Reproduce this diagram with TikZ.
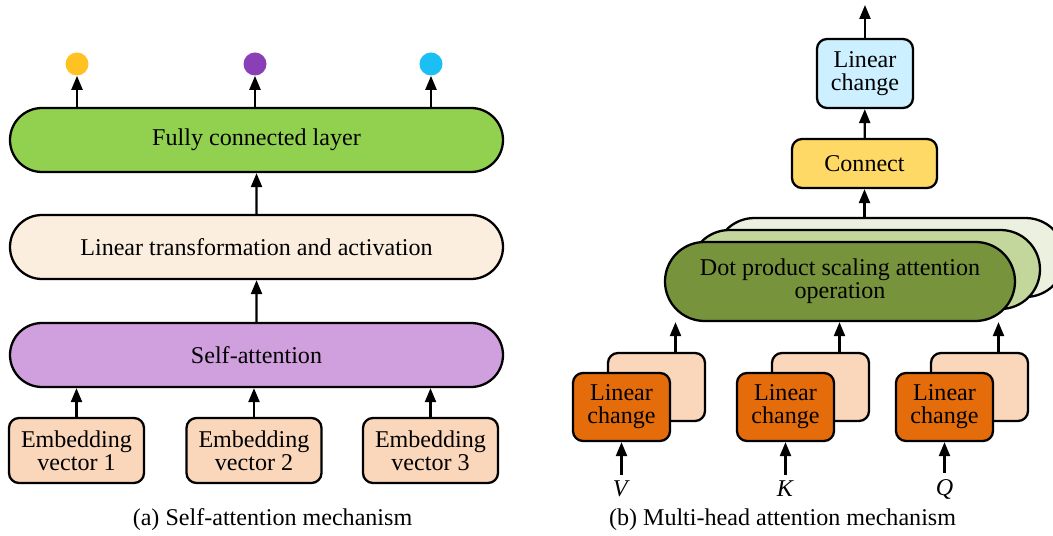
\documentclass[tikz,border=0pt]{standalone}
\usepackage{fontspec}
\setmainfont{Liberation Serif}
\usetikzlibrary{arrows.meta,shapes.misc,calc}
\definecolor{attGreen}{HTML}{92D050}
\definecolor{attCream}{HTML}{FBEEDF}
\definecolor{attLilac}{HTML}{CF9FDE}
\definecolor{attPeach}{HTML}{FAD6BA}
\definecolor{dotGold}{HTML}{FFC222}
\definecolor{dotPurple}{HTML}{8B3FB7}
\definecolor{dotCyan}{HTML}{1CBFF4}
\definecolor{mhOlive}{HTML}{77933C}
\definecolor{mhSage}{HTML}{C3D69B}
\definecolor{mhPale}{HTML}{EBF1DE}
\definecolor{mhGold}{HTML}{FFD966}
\definecolor{mhSky}{HTML}{CCF0FF}
\definecolor{mhOrange}{HTML}{E46C0A}
\tikzset{
  att line/.style={draw=black, line width=1.3pt},
  att arrow/.style={att line, -{Triangle[length=2.8mm, width=2.2mm]}},
  att pill/.style={rounded rectangle, draw=black, line width=1.3pt, align=center, inner sep=0pt,
    minimum width=9.86cm, minimum height=1.28cm},
  att box/.style={rectangle, rounded corners=2mm, draw=black, line width=1.3pt, align=center, inner sep=0pt},
  att dot/.style={circle, minimum size=4.6mm, inner sep=0pt},
}

\begin{document}
\begin{tikzpicture}[font=\fontsize{13.7pt}{13pt}\selectfont]
  \useasboundingbox[fill=white] (0,0) rectangle (21.06,-10.72);

  % (a) three stacked layers
  \node[att pill, fill=attGreen] (fc) at (5.13,-2.80) {Fully connected layer};
  \node[att pill, fill=attCream] (lin) at (5.13,-4.94) {Linear transformation and activation};
  \node[att pill, fill=attLilac] (sa) at (5.13,-7.10) {Self-attention};
  \draw[att arrow] (sa) -- (lin);
  \draw[att arrow] (lin) -- (fc);

  % embeddings in, coloured outputs out
  \foreach \x/\k in {1.53/1, 5.08/2, 8.61/3} {
    \node[att box, fill=attPeach, minimum width=2.70cm, minimum height=1.30cm] (emb\k) at (\x,-9.01) {Embedding\\vector \k};
    \draw[att arrow] (emb\k) -- (emb\k |- sa.south);
  }
  \foreach \x/\k/\c in {1.54/1/dotGold, 5.10/2/dotPurple, 8.62/3/dotCyan} {
    \node[att dot, fill=\c] (out\k) at (\x,-1.28) {};
    \draw[att arrow] (out\k |- fc.north) -- (out\k);
  }

  % (b) heads stacked behind the attention block
  \foreach \d/\c in {2/mhPale, 1/mhSage} {
    \node[att pill, fill=\c, minimum width=7cm, minimum height=1.58cm] (dp\d) at ($(16.80,-5.63)+\d*(0.5,0.24)$) {};
  }
  \node[att pill, fill=mhOlive, minimum width=7cm, minimum height=1.58cm] (dp0) at (16.80,-5.63) {Dot product scaling attention\\operation};

  \node[att box, fill=mhGold, minimum width=2.90cm, minimum height=0.98cm] (cat) at (17.29,-3.27) {Connect};
  \node[att box, fill=mhSky, minimum width=1.92cm, minimum height=1.38cm] (lout) at (17.30,-1.47) {Linear\\change};
  \coordinate (top) at (17.30,-0.10);
  \draw[att arrow] (cat |- dp2.north) -- (cat);
  \draw[att arrow] (cat) -- (lout);
  \draw[att arrow] (lout) -- (top);

  % V, K, Q projections
  \foreach \x/\k/\v in {12.43/v/V, 15.71/k/K, 18.89/q/Q} {
    \node[att box, fill=attPeach, minimum width=1.94cm, minimum height=1.36cm] (back\k) at (\x+0.70,-7.74) {};
    \node[att box, fill=mhOrange, minimum width=1.94cm, minimum height=1.36cm] (proj\k) at (\x,-8.14) {Linear\\change};
    \coordinate (tap\k) at ($(back\k.north)+(0.38,0)$);
    \draw[att arrow] (tap\k) -- (tap\k |- dp0.south);
    \node (in\k) at (\x,-9.78) {\textit{\v}};
    \draw[att arrow] (in\k) -- (proj\k);
  }

  \node (capa) at (5.45,-10.40) {(a) Self-attention mechanism};
  \node (capb) at (15.65,-10.40) {(b) Multi-head attention mechanism};
\end{tikzpicture}
\end{document}
